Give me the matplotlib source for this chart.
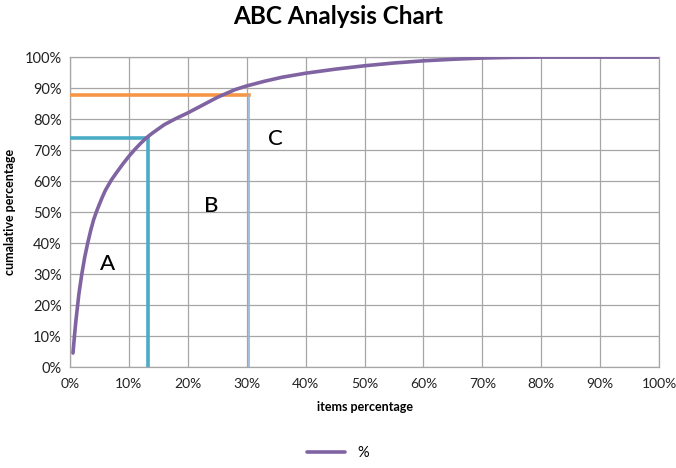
import numpy as np
import matplotlib
matplotlib.use('Agg')
import matplotlib.pyplot as plt
from matplotlib.ticker import PercentFormatter

plt.rcParams['font.family'] = ['Lato', 'DejaVu Sans']

# cumulative curve (items %, cumulative %)
items_pct = [0.5, 0.75, 1, 1.5, 2, 2.5, 3, 3.5, 4, 4.5, 5, 5.5, 6, 7, 8, 9, 10, 11, 12, 13, 14,
             16, 18, 20, 22, 25, 28, 30, 33, 36, 40, 45, 50, 55, 60, 65, 70, 75, 80, 90, 100]
cum_pct = [4.5, 10, 15, 23.5, 30, 35.5, 40, 44, 47.5, 50.2, 52.6, 54.9, 57, 60.3, 63, 65.6, 68, 70.2, 72.2, 74, 75.5,
           78.2, 80.2, 82, 84, 87, 89.5, 90.7, 92.2, 93.5, 94.8, 96.1, 97.2, 98.1, 98.8, 99.3, 99.7, 99.9, 100, 100, 100]

# class boundaries
a_cut, a_pct = 13.2, 74
b_cut, b_pct = 30.4, 87.7

fig = plt.figure(figsize=(6.76, 4.68), dpi=100)
ax = fig.add_axes([0.1036, 0.2158, 0.8714, 0.6622])

ax.plot(items_pct, cum_pct, color='#8064A2', lw=2.6, label='%', zorder=5,
        solid_capstyle='round', solid_joinstyle='round')

# A boundary (blue), B boundary (orange + thin vertical)
ax.plot([0, a_cut, a_cut], [a_pct, a_pct, 0], color='#4BACC6', lw=2.6, zorder=4)
ax.plot([0, b_cut], [b_pct, b_pct], color='#F79646', lw=2.6, zorder=4)
ax.plot([b_cut, b_cut], [0, b_pct], color='#95B3D7', lw=1.2, zorder=4)

ax.text(6.45, 33.2, 'A', fontsize=16, ha='center', va='center', fontweight='medium')
ax.text(23.9, 52, 'B', fontsize=16, ha='center', va='center', fontweight='medium')
ax.text(34.8, 73.5, 'C', fontsize=16, ha='center', va='center', fontweight='medium')

ax.set_xlim(0, 100)
ax.set_ylim(0, 100)
ax.set_xticks(np.arange(0, 101, 10))
ax.set_yticks(np.arange(0, 101, 10))
ax.xaxis.set_major_formatter(PercentFormatter(decimals=0))
ax.yaxis.set_major_formatter(PercentFormatter(decimals=0))
ax.tick_params(length=0, labelsize=10, colors='#222222', pad=8)
ax.tick_params(axis='y', pad=6, labelsize=10.5)
ax.grid(True, color='#a6a6a6', lw=0.9)
for s in ax.spines.values():
    s.set_color('#a6a6a6')
    s.set_linewidth(0.9)

ax.set_xlabel('items percentage', fontsize=9, fontweight='bold', labelpad=8)
ax.set_ylabel('cumalative percentage', fontsize=9, fontweight='bold', labelpad=6)
fig.suptitle('ABC Analysis Chart', fontsize=17.5, fontweight='bold', y=0.99)

fig.legend(loc='lower center', bbox_to_anchor=(0.5, -0.005), frameon=False,
           fontsize=10.5, handlelength=2.6, borderpad=0.2)

fig.savefig('out.png', dpi=100)
